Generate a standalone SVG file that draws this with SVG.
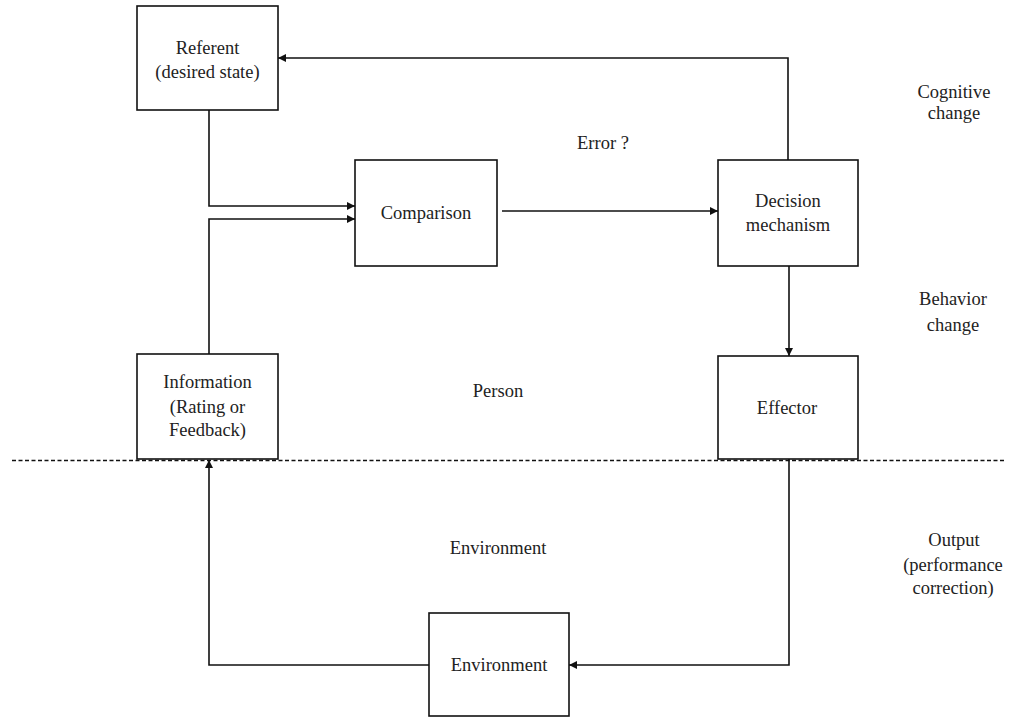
<svg xmlns="http://www.w3.org/2000/svg" width="1014" height="717" viewBox="0 0 1014 717">
<style>
.box{fill:#fff;stroke:#111;stroke-width:1.6}
.t{font-family:"Liberation Serif","Times New Roman",serif;font-size:18.5px;fill:#222;text-anchor:middle}
.c{fill:none;stroke:#111;stroke-width:1.6}
</style>
<defs>
<marker id="ah" viewBox="0 0 10 10" refX="10" refY="5" markerWidth="8" markerHeight="8" markerUnits="userSpaceOnUse" orient="auto">
<path d="M0,0 L10,5 L0,10 z" fill="#111"/>
</marker>
</defs>
<rect width="1014" height="717" fill="#fff"/>
<line x1="12" y1="460.5" x2="1005" y2="460.5" stroke="#111" stroke-width="1.6" stroke-dasharray="4,2.5"/>
<g id="connectors">
<polyline class="c" points="209,110 209,206 355,206" marker-end="url(#ah)"/>
<polyline class="c" points="209,354 209,219 355,219" marker-end="url(#ah)"/>
<line class="c" x1="502" y1="211" x2="718" y2="211" marker-end="url(#ah)"/>
<polyline class="c" points="788,160 788,58 278,58" marker-end="url(#ah)"/>
<line class="c" x1="789" y1="266" x2="789" y2="356" marker-end="url(#ah)"/>
<polyline class="c" points="789,459 789,665 569,665" marker-end="url(#ah)"/>
<polyline class="c" points="429,665 209,665 209,460" marker-end="url(#ah)"/>
</g>
<g id="referent"><rect class="box" x="137" y="6" width="141" height="104"/>
<text class="t" x="207.5" y="54">Referent</text><text class="t" x="207.5" y="78">(desired state)</text></g>
<g id="comparison"><rect class="box" x="355" y="160" width="142" height="106"/>
<text class="t" x="426" y="219">Comparison</text></g>
<g id="decision"><rect class="box" x="718" y="160" width="140" height="106"/>
<text class="t" x="788" y="207">Decision</text><text class="t" x="788" y="231">mechanism</text></g>
<g id="information"><rect class="box" x="137" y="354" width="141" height="105"/>
<text class="t" x="207.5" y="388">Information</text><text class="t" x="207.5" y="413">(Rating or</text><text class="t" x="207.5" y="436">Feedback)</text></g>
<g id="effector"><rect class="box" x="718" y="356" width="140" height="103"/>
<text class="t" x="787" y="414">Effector</text></g>
<g id="environment"><rect class="box" x="429" y="613" width="140" height="103"/>
<text class="t" x="499" y="671">Environment</text></g>
<g id="labels">
<text class="t" x="603" y="149">Error ?</text>
<text class="t" x="498" y="397">Person</text>
<text class="t" x="498" y="554">Environment</text>
<text class="t" x="954" y="98">Cognitive</text><text class="t" x="954" y="119">change</text>
<text class="t" x="953" y="305">Behavior</text><text class="t" x="953" y="331">change</text>
<text class="t" x="954" y="546">Output</text><text class="t" x="953" y="571">(performance</text><text class="t" x="953" y="594">correction)</text>
</g>
</svg>
